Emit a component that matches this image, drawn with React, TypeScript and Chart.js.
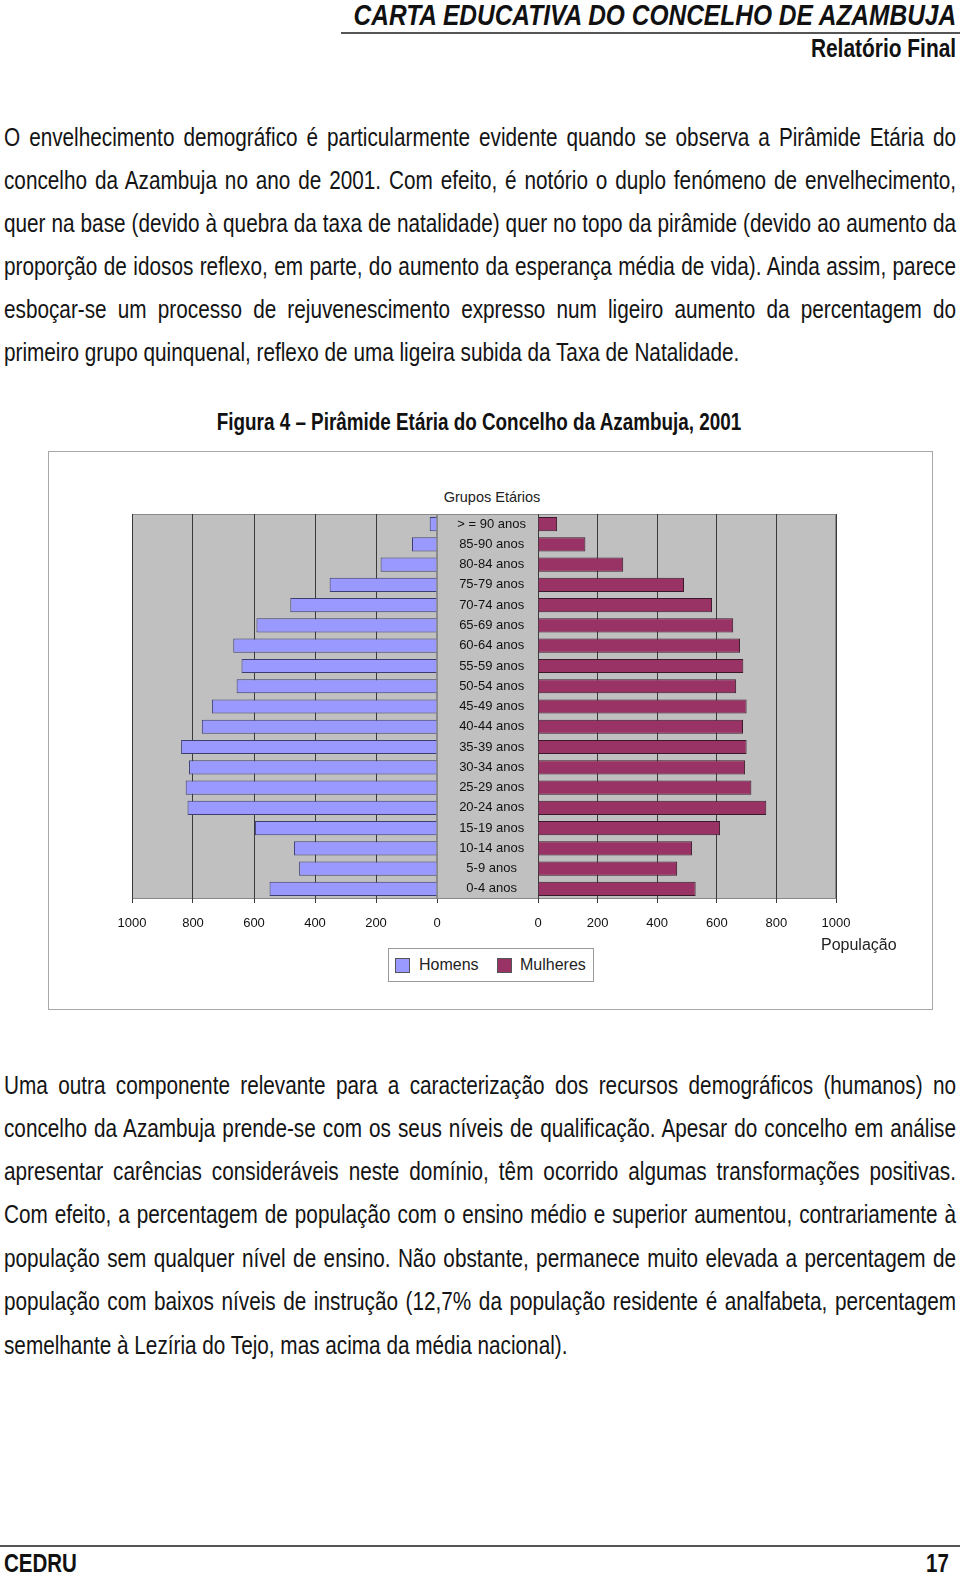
import React, { useEffect, useRef } from "react";
import { Chart, registerables } from "chart.js";

Chart.register(...registerables);

const ageGroups = [
  "> = 90 anos", "85-90 anos", "80-84 anos", "75-79 anos", "70-74 anos",
  "65-69 anos", "60-64 anos", "55-59 anos", "50-54 anos", "45-49 anos",
  "40-44 anos", "35-39 anos", "30-34 anos", "25-29 anos", "20-24 anos",
  "15-19 anos", "10-14 anos", "5-9 anos", "0-4 anos",
];
const homens = [24, 82, 185, 352, 481, 592, 668, 641, 657, 738, 771, 839, 813, 824, 818, 597, 469, 452, 549];
const mulheres = [64, 159, 286, 490, 584, 655, 678, 689, 665, 700, 688, 700, 695, 716, 766, 611, 517, 467, 529];
const populationTicks = [0, 200, 400, 600, 800, 1000];

const para1 = [
  "O envelhecimento demográfico é particularmente evidente quando se observa a Pirâmide Etária do",
  "concelho da Azambuja no ano de 2001. Com efeito, é notório o duplo fenómeno de envelhecimento,",
  "quer na base (devido à quebra da taxa de natalidade) quer no topo da pirâmide (devido ao aumento da",
  "proporção de idosos reflexo, em parte, do aumento da esperança média de vida). Ainda assim, parece",
  "esboçar-se um processo de rejuvenescimento expresso num ligeiro aumento da percentagem do",
  "primeiro grupo quinquenal, reflexo de uma ligeira subida da Taxa de Natalidade.",
];
const para1Y = [137.5, 180.5, 223.5, 267, 310, 353];
const para2 = [
  "Uma outra componente relevante para a caracterização dos recursos demográficos (humanos) no",
  "concelho da Azambuja prende-se com os seus níveis de qualificação. Apesar do concelho em análise",
  "apresentar carências consideráveis neste domínio, têm ocorrido algumas transformações positivas.",
  "Com efeito, a percentagem de população com o ensino médio e superior aumentou, contrariamente à",
  "população sem qualquer nível de ensino. Não obstante, permanece muito elevada a percentagem de",
  "população com baixos níveis de instrução (12,7% da população residente é analfabeta, percentagem",
  "semelhante à Lezíria do Tejo, mas acima da média nacional).",
];
const para2Y = [1085.5, 1128.5, 1172, 1215, 1259, 1302, 1345.5];

const SANS = "'Liberation Sans', Arial, sans-serif";
const NARROW_SCALE = 0.82;

Chart.defaults.font.family = SANS;

const plotBg = {
  id: "plotBg",
  beforeDraw(chart: any, _args: any, opts: any) {
    const { ctx, chartArea } = chart;
    const left = opts && opts.extendLeft ? chart.scales.y.left : chartArea.left;
    ctx.save();
    ctx.fillStyle = "#c0c0c0";
    ctx.fillRect(left, chartArea.top, chartArea.right - left, chartArea.bottom - chartArea.top);
    ctx.strokeStyle = "#8a8a8a";
    ctx.lineWidth = 1;
    ctx.strokeRect(left + 0.5, chartArea.top + 0.5, chartArea.right - left - 1, chartArea.bottom - chartArea.top - 1);
    ctx.restore();
  },
};

function xAxis(reverse: boolean) {
  return {
    reverse,
    min: 0,
    max: 1000,
    afterBuildTicks: (s: any) => {
      s.ticks = populationTicks.map((v) => ({ value: v }));
    },
    afterFit: (s: any) => {
      s.height = 43;
    },
    grid: { color: "#3a3a3a", tickColor: "#3a3a3a", tickLength: 4 },
    border: { display: false },
    ticks: {
      font: { size: 13 },
      color: "#111",
      padding: 13,
      maxRotation: 0,
      autoSkip: false,
      callback: (v: any) => String(v),
    },
  };
}

function Pyramid() {
  const leftRef = useRef<HTMLCanvasElement>(null);
  const rightRef = useRef<HTMLCanvasElement>(null);
  useEffect(() => {
    const left = new Chart(leftRef.current!, {
      type: "bar",
      data: {
        labels: ageGroups,
        datasets: [
          {
            label: "Homens",
            data: homens,
            backgroundColor: "#9999ff",
            borderColor: "#3d3d70",
            borderWidth: 1,
            barPercentage: 0.7,
            categoryPercentage: 1,
          },
        ],
      },
      options: {
        indexAxis: "y",
        responsive: false,
        animation: false,
        layout: { padding: { left: 32, right: 8, top: 32, bottom: 0 } },
        plugins: { legend: { display: false }, tooltip: { enabled: false }, plotBg: { extendLeft: false } } as any,
        scales: {
          x: xAxis(true) as any,
          y: { display: false },
        },
      },
      plugins: [plotBg],
    });
    const right = new Chart(rightRef.current!, {
      type: "bar",
      data: {
        labels: ageGroups,
        datasets: [
          {
            label: "Mulheres",
            data: mulheres,
            backgroundColor: "#993366",
            borderColor: "#3a1a2a",
            borderWidth: 1,
            barPercentage: 0.7,
            categoryPercentage: 1,
          },
        ],
      },
      options: {
        indexAxis: "y",
        responsive: false,
        animation: false,
        layout: { padding: { left: 0, right: 34, top: 32, bottom: 0 } },
        plugins: { legend: { display: false }, tooltip: { enabled: false }, plotBg: { extendLeft: true } } as any,
        scales: {
          x: xAxis(false) as any,
          y: {
            position: "left",
            afterFit: (s: any) => {
              s.width = 101;
            },
            grid: { display: false },
            border: { display: true, color: "#3a3a3a" },
            ticks: { font: { size: 13 }, color: "#111", crossAlign: "center", padding: 4, autoSkip: false },
          } as any,
        },
      },
      plugins: [plotBg],
    });
    return () => {
      left.destroy();
      right.destroy();
    };
  }, []);
  return (
    <>
      <canvas ref={leftRef} width={345} height={460} style={{ position: "absolute", left: 100, top: 482, width: 345, height: 460 }} />
      <canvas ref={rightRef} width={433} height={460} style={{ position: "absolute", left: 437, top: 482, width: 433, height: 460 }} />
    </>
  );
}

function TextLine({ text, y, last }: { text: string; y: number; last: boolean }) {
  const fs = 25.3;
  return (
    <div
      style={{
        position: "absolute",
        left: 4,
        width: 952 / NARROW_SCALE,
        top: y - fs / 2,
        height: fs,
        lineHeight: fs + "px",
        fontSize: fs,
        fontFamily: SANS,
        color: "#141414",
        whiteSpace: "nowrap",
        textAlign: last ? "left" : "justify",
        textAlignLast: last ? "left" : "justify",
        transform: `scaleX(${NARROW_SCALE})`,
        transformOrigin: "left top",
      } as any}
    >
      {text}
    </div>
  );
}

function NarrowText({ text, right, left, top, size, bold, italic, scale }: any) {
  const s = scale || NARROW_SCALE;
  const style: any = {
    position: "absolute",
    top,
    fontFamily: SANS,
    fontWeight: bold ? "bold" : "normal",
    fontStyle: italic ? "italic" : "normal",
    fontSize: size,
    lineHeight: size + "px",
    color: "#111",
    whiteSpace: "nowrap",
    transform: `scaleX(${s})`,
  };
  if (right !== undefined) {
    style.right = right;
    style.transformOrigin = "right top";
  } else {
    style.left = left;
    style.transformOrigin = "left top";
  }
  return <div style={style}>{text}</div>;
}

export default function App() {
  return (
    <div style={{ position: "absolute", left: 0, top: 0, width: 960, height: 1573, background: "#fff", overflow: "hidden" }}>
      {/* header */}
      <NarrowText text="CARTA EDUCATIVA DO CONCELHO DE AZAMBUJA" right={4} top={1} size={29} bold italic scale={0.845} />
      <div style={{ position: "absolute", left: 341, width: 619, top: 32, height: 2, background: "#555" }} />
      <NarrowText text="Relatório Final" right={4} top={36} size={25.5} bold />

      {para1.map((t, i) => (
        <TextLine key={"a" + i} text={t} y={para1Y[i]} last={i === para1.length - 1} />
      ))}

      <div
        style={{
          position: "absolute",
          left: 479 - 400,
          width: 800,
          top: 411,
          textAlign: "center",
          fontFamily: SANS,
          fontWeight: "bold",
          fontSize: 23,
          lineHeight: "23px",
          color: "#111",
          whiteSpace: "nowrap",
          transform: `scaleX(${NARROW_SCALE})`,
          transformOrigin: "center top",
        }}
      >
        Figura 4 – Pirâmide Etária do Concelho da Azambuja, 2001
      </div>

      {/* chart frame */}
      <div style={{ position: "absolute", left: 48, top: 451, width: 885, height: 559, border: "1px solid #a8a8a8", boxSizing: "border-box", background: "#fff" }} />
      <div style={{ position: "absolute", left: 392, width: 200, top: 489, textAlign: "center", fontFamily: SANS, fontSize: 14.5, lineHeight: "16px", color: "#222" }}>
        Grupos Etários
      </div>
      <Pyramid />
      <div style={{ position: "absolute", left: 821, top: 936, fontFamily: SANS, fontSize: 16, lineHeight: "18px", color: "#222", whiteSpace: "nowrap" }}>
        População
      </div>
      <div style={{ position: "absolute", left: 388, top: 948, width: 206, height: 34, border: "1px solid #9a9a9a", boxSizing: "border-box", background: "#fff" }}>
        <div style={{ position: "absolute", left: 6, top: 9, width: 15, height: 15, background: "#9999ff", border: "1px solid #555", boxSizing: "border-box" }} />
        <div style={{ position: "absolute", left: 30, top: 7, fontFamily: SANS, fontSize: 16, lineHeight: "18px", color: "#222" }}>Homens</div>
        <div style={{ position: "absolute", left: 108, top: 9, width: 15, height: 15, background: "#993366", border: "1px solid #555", boxSizing: "border-box" }} />
        <div style={{ position: "absolute", left: 131, top: 7, fontFamily: SANS, fontSize: 16, lineHeight: "18px", color: "#222" }}>Mulheres</div>
      </div>

      {para2.map((t, i) => (
        <TextLine key={"b" + i} text={t} y={para2Y[i]} last={i === para2.length - 1} />
      ))}

      {/* footer */}
      <div style={{ position: "absolute", left: 0, width: 960, top: 1545, height: 2, background: "#555" }} />
      <NarrowText text="CEDRU" left={4} top={1551} size={25} bold />
      <NarrowText text="17" right={11} top={1551} size={25} bold />
    </div>
  );
}
